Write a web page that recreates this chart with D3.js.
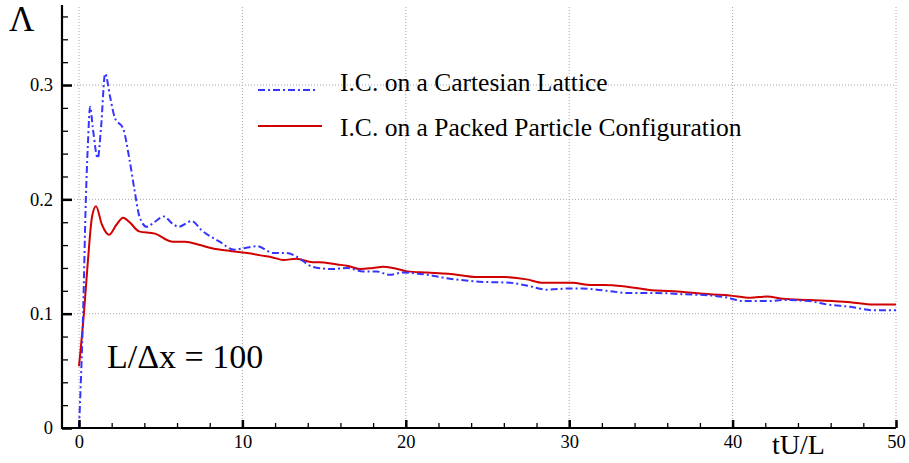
<!DOCTYPE html>
<html>
<head>
<meta charset="utf-8">
<script src="https://cdn.jsdelivr.net/npm/d3@7"></script>
<style>
  html, body { margin: 0; padding: 0; background: #fff; }
  svg { display: block; font-family: "Liberation Serif", "Times New Roman", serif; }
</style>
</head>
<body>
<svg id="chart" width="909" height="463"></svg>
<script>
// Time axis (tU/L) and Λ values for the two initial conditions
const cartesianT = [0, 0.25, 0.42, 0.55, 0.68, 0.85, 1.15, 1.35, 1.6, 1.9, 2.2, 2.7, 3.1, 3.4, 3.7, 4.15, 4.6, 5.2, 5.7, 6.1, 6.9, 7.5, 8.6, 9.5, 10.0, 10.9, 11.9, 12.7, 13.3, 14.3, 15.5, 16.4, 17.4, 18.2, 19.0, 19.8, 21.3, 22.5, 24.5, 26.4, 27.6, 28.6, 30.0, 30.8, 32.3, 33.7, 35.4, 37.0, 38.6, 39.7, 40.6, 42.3, 43.1, 44.7, 45.8, 47.2, 48.6, 50];
const cartesianL = [0, 0.1, 0.2, 0.25, 0.281, 0.262, 0.236, 0.263, 0.31, 0.29, 0.271, 0.262, 0.234, 0.208, 0.185, 0.176, 0.18, 0.185, 0.179, 0.176, 0.181, 0.173, 0.163, 0.156, 0.157, 0.159, 0.153, 0.153, 0.150, 0.141, 0.139, 0.140, 0.137, 0.137, 0.134, 0.136, 0.134, 0.131, 0.128, 0.127, 0.124, 0.121, 0.122, 0.122, 0.120, 0.118, 0.118, 0.117, 0.116, 0.114, 0.111, 0.111, 0.112, 0.111, 0.108, 0.106, 0.103, 0.103];

const packedT = [0, 0.3, 0.55, 0.8, 1.04, 1.4, 1.84, 2.3, 2.7, 3.1, 3.67, 4.65, 5.7, 6.5, 7.4, 8.2, 9.2, 10.3, 11.1, 11.9, 12.5, 13.3, 14.3, 14.7, 15.8, 16.4, 17.2, 18.0, 18.6, 19.2, 20.1, 21.3, 22.6, 24.4, 26.0, 27.4, 28.4, 30.2, 31.3, 32.1, 33.3, 34.8, 37.0, 38.6, 39.8, 41.1, 42.1, 43.1, 44.7, 46.1, 47.2, 48.6, 50];
const packedL = [0.054, 0.1, 0.147, 0.185, 0.194, 0.178, 0.169, 0.178, 0.184, 0.18, 0.172, 0.170, 0.163, 0.163, 0.160, 0.157, 0.155, 0.153, 0.151, 0.149, 0.147, 0.148, 0.145, 0.145, 0.143, 0.142, 0.139, 0.140, 0.141, 0.140, 0.137, 0.136, 0.135, 0.132, 0.132, 0.130, 0.127, 0.127, 0.125, 0.125, 0.124, 0.121, 0.119, 0.117, 0.116, 0.114, 0.115, 0.113, 0.112, 0.111, 0.110, 0.108, 0.108];

const seriesNames = ["I.C. on a Cartesian Lattice", "I.C. on a Packed Particle Configuration"];
const seriesColors = ["#3535ff", "#d00000"];

const xMajor = [0, 10, 20, 30, 40, 50];
const xMinor = d3.range(0, 50.001, 2);
const yMajor = [0, 0.1, 0.2, 0.3];
const yMajorLabels = ["0", "0.1", "0.2", "0.3"];
const yMinor = d3.range(0, 0.3601, 0.02);

const serif = "Liberation Serif";
const svg = d3.select("#chart");

const x = d3.scaleLinear().domain([-1.04, 50]).range([62, 896]);
const y = d3.scaleLinear().domain([0, 0.37]).range([428, 5]);

// dotted grid
const grid = svg.append("g").attr("stroke", "#a8a8a8").attr("stroke-width", 1).attr("stroke-dasharray", "1,2");
grid.selectAll("line.gx").data(xMajor).join("line")
  .attr("x1", d => x(d)).attr("x2", d => x(d))
  .attr("y1", y(0)).attr("y2", y(0.37));
grid.selectAll("line.gy").data(yMajor.filter(d => d > 0)).join("line")
  .attr("x1", x(-1.04)).attr("x2", x(50))
  .attr("y1", d => y(d)).attr("y2", d => y(d));

// curves
const line = d3.line().x(d => x(d[0])).y(d => y(d[1])).curve(d3.curveMonotoneX);
const cartesian = cartesianT.map((t, i) => [t, cartesianL[i]]);
const packed = packedT.map((t, i) => [t, packedL[i]]);

svg.append("path").datum(packed)
  .attr("d", line).attr("fill", "none")
  .attr("stroke", seriesColors[1]).attr("stroke-width", 2);
svg.append("path").datum(cartesian)
  .attr("d", line).attr("fill", "none")
  .attr("stroke", seriesColors[0]).attr("stroke-width", 2)
  .attr("stroke-dasharray", "7,3,2,3");

// x axis
const xAxisG = svg.append("g").attr("transform", `translate(0,${y(0)})`);
xAxisG.call(d3.axisBottom(x).tickValues(xMinor).tickSizeInner(-5).tickSizeOuter(0).tickFormat(""))
  .call(g => g.select(".domain").remove())
  .call(g => g.selectAll("line").attr("stroke", "#000").attr("stroke-width", 1.3));
const xAxisMajor = svg.append("g").attr("transform", `translate(0,${y(0)})`);
xAxisMajor.call(d3.axisBottom(x).tickValues(xMajor).tickSizeInner(-8).tickSizeOuter(0).tickPadding(7).tickFormat(d3.format("d")))
  .attr("font-family", serif)
  .call(g => g.select(".domain").remove())
  .call(g => g.selectAll("line").attr("stroke", "#000").attr("stroke-width", 2.5))
  .call(g => g.selectAll("text").attr("font-family", serif).attr("font-size", 18.5).attr("fill", "#000"));
svg.append("line")
  .attr("x1", x(-1.04)).attr("x2", x(50)).attr("y1", y(0)).attr("y2", y(0))
  .attr("stroke", "#000").attr("stroke-width", 2.2);

// y axis
const yAxisMinor = svg.append("g").attr("transform", `translate(${x(-1.04)},0)`);
yAxisMinor.call(d3.axisLeft(y).tickValues(yMinor).tickSizeInner(-6).tickSizeOuter(0).tickFormat(""))
  .call(g => g.select(".domain").remove())
  .call(g => g.selectAll("line").attr("stroke", "#000").attr("stroke-width", 1.3));
const yAxisMajor = svg.append("g").attr("transform", `translate(${x(-1.04)},0)`);
yAxisMajor.call(d3.axisLeft(y).tickValues(yMajor).tickSizeInner(-10).tickSizeOuter(0).tickPadding(9)
    .tickFormat((d, i) => yMajorLabels[i]))
  .attr("font-family", serif)
  .call(g => g.select(".domain").remove())
  .call(g => g.selectAll("line").attr("stroke", "#000").attr("stroke-width", 2.5))
  .call(g => g.selectAll("text").attr("font-family", serif).attr("font-size", 18.5).attr("fill", "#000"));
svg.append("line")
  .attr("x1", x(-1.04)).attr("x2", x(-1.04)).attr("y1", y(0.37)).attr("y2", y(0) + 1)
  .attr("stroke", "#000").attr("stroke-width", 2.2);

// axis titles
svg.append("text").attr("x", 9).attr("y", 31).attr("font-family", serif)
  .attr("font-size", 35).attr("fill", "#000").text("Λ");
svg.append("text").attr("x", 772).attr("y", 454).attr("font-family", serif)
  .attr("font-size", 28).attr("fill", "#000").text("tU/L");

// annotation
svg.append("text").attr("x", 107).attr("y", 368).attr("font-family", serif)
  .attr("font-size", 34).attr("fill", "#000").text("L/Δx = 100");

// legend
const legend = svg.append("g").attr("font-family", serif);
legend.append("line").attr("x1", 258).attr("x2", 318).attr("y1", 90).attr("y2", 90)
  .attr("stroke", seriesColors[0]).attr("stroke-width", 2).attr("stroke-dasharray", "7,3,2,3");
legend.append("line").attr("x1", 258).attr("x2", 322).attr("y1", 126).attr("y2", 126)
  .attr("stroke", seriesColors[1]).attr("stroke-width", 2);
legend.append("text").attr("x", 340).attr("y", 91).attr("font-size", 25.5).attr("fill", "#000").text(seriesNames[0]);
legend.append("text").attr("x", 340).attr("y", 136).attr("font-size", 25.5).attr("fill", "#000").text(seriesNames[1]);
</script>
</body>
</html>
